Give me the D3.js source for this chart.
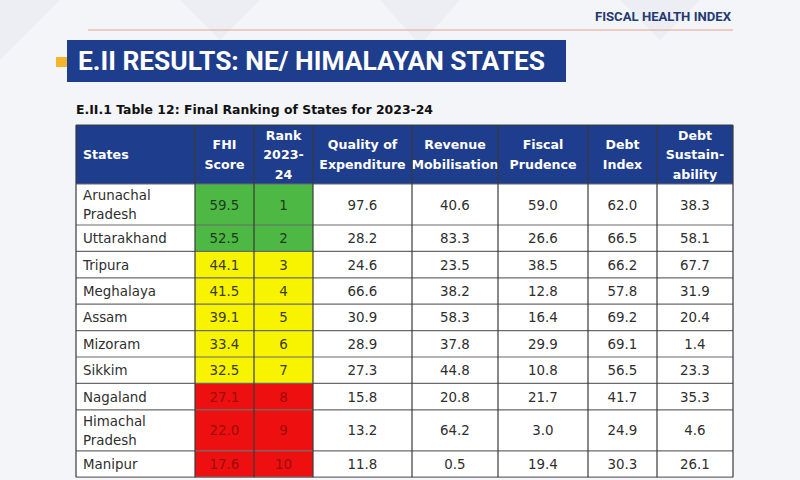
<!DOCTYPE html>
<html>
<head>
<meta charset="utf-8">
<script src="https://cdn.jsdelivr.net/npm/d3@7"></script>
<style>
  html, body { margin: 0; padding: 0; background: #f4f5f9; }
  svg { display: block; }
</style>
</head>
<body>
<div id="chart_container"></div>
<script>
// table data
const states = ["Arunachal Pradesh", "Uttarakhand", "Tripura", "Meghalaya", "Assam",
  "Mizoram", "Sikkim", "Nagaland", "Himachal Pradesh", "Manipur"];
const fhiScore = [59.5, 52.5, 44.1, 41.5, 39.1, 33.4, 32.5, 27.1, 22.0, 17.6];
const rank2023 = [1, 2, 3, 4, 5, 6, 7, 8, 9, 10];
const qualityExp = [97.6, 28.2, 24.6, 66.6, 30.9, 28.9, 27.3, 15.8, 13.2, 11.8];
const revenueMob = [40.6, 83.3, 23.5, 38.2, 58.3, 37.8, 44.8, 20.8, 64.2, 0.5];
const fiscalPrudence = [59.0, 26.6, 38.5, 12.8, 16.4, 29.9, 10.8, 21.7, 3.0, 19.4];
const debtIndex = [62.0, 66.5, 66.2, 57.8, 69.2, 69.1, 56.5, 41.7, 24.9, 30.3];
const debtSustain = [38.3, 58.1, 67.7, 31.9, 20.4, 1.4, 23.3, 35.3, 4.6, 26.1];

const headerLabels = [
  ["States"], ["FHI", "Score"], ["Rank", "2023-", "24"], ["Quality of", "Expenditure"],
  ["Revenue", "Mobilisation"], ["Fiscal", "Prudence"], ["Debt", "Index"], ["Debt", "Sustain-", "ability"]
];

const W = 800, H = 480;
const TABLE = { left: 76, top: 125, headH: 59, rowH: 26.4, rowH2: 41 };
const COL_W = [119, 59, 59, 99, 86, 90, 69, 76];
const NAVY = "#1f3d8d";
const BORDER = "#6a6a6a";

// FHI score buckets -> cell colour
const scoreFill = d3.scaleThreshold().domain([30, 50]).range(["#ee1010", "#f8f400", "#4db944"]);
const scoreText = d3.scaleThreshold().domain([30, 50]).range(["#9a0c0c", "#3b3a12", "#1f3a1c"]);
const fmt1 = d3.format(".1f");

const rows = states.map((s, i) => ({
  state: s,
  cells: [fmt1(fhiScore[i]), String(rank2023[i]), fmt1(qualityExp[i]), fmt1(revenueMob[i]),
    fmt1(fiscalPrudence[i]), fmt1(debtIndex[i]), fmt1(debtSustain[i])],
  score: fhiScore[i],
  lines: s.length > 12 ? s.split(" ") : [s]
}));

const svg = d3.select("#chart_container").append("svg")
  .attr("width", W).attr("height", H);

// background with faint diagonal shapes
svg.append("rect").attr("width", W).attr("height", H).attr("fill", "#f4f5f9");
const bgShapes = [[0, 0, 60, 0, 0, 60], [180, 0, 260, 0, 220, 40], [380, 0, 460, 0, 420, 45], [620, 0, 700, 0, 660, 40]];
svg.selectAll("polygon.bg").data(bgShapes).join("polygon").attr("class", "bg")
  .attr("points", d => `${d[0]},${d[1]} ${d[2]},${d[3]} ${d[4]},${d[5]}`)
  .attr("fill", "#eceef4");

// top running header
svg.append("text").attr("x", 731).attr("y", 21).attr("text-anchor", "end")
  .attr("font-family", "Roboto").attr("font-weight", 700).attr("font-size", 12.5)
  .attr("textLength", 136).attr("lengthAdjust", "spacingAndGlyphs")
  .attr("fill", "#243a73").text("FISCAL HEALTH INDEX");
svg.append("line").attr("x1", 88).attr("x2", 733).attr("y1", 30).attr("y2", 30)
  .attr("stroke", "#e4a593").attr("stroke-width", 1.2);

// title banner
svg.append("rect").attr("x", 56).attr("y", 57).attr("width", 12).attr("height", 10).attr("fill", "#f5b52a");
svg.append("rect").attr("x", 67).attr("y", 40).attr("width", 499).attr("height", 42).attr("fill", NAVY);
svg.append("text").attr("x", 78).attr("y", 70)
  .attr("font-family", "Roboto").attr("font-weight", 700).attr("font-size", 25)
  .attr("textLength", 467).attr("lengthAdjust", "spacingAndGlyphs")
  .attr("fill", "#ffffff").text("E.II RESULTS: NE/ HIMALAYAN STATES");

svg.append("text").attr("x", 76).attr("y", 114)
  .attr("font-family", "DejaVu Sans").attr("font-weight", 700).attr("font-size", 12.5)
  .attr("textLength", 357).attr("lengthAdjust", "spacingAndGlyphs")
  .attr("fill", "#111").text("E.II.1 Table 12: Final Ranking of States for 2023-24");

// column x positions
const colX = COL_W.reduce((acc, w) => { acc.push(acc[acc.length - 1] + w); return acc; }, [TABLE.left]);
const tableW = colX[colX.length - 1] - TABLE.left;

// row y positions
let yAcc = TABLE.top + TABLE.headH;
rows.forEach(r => {
  r.h = r.lines.length > 1 ? TABLE.rowH2 : TABLE.rowH;
  r.y = yAcc;
  yAcc += r.h;
});
const tableBottom = yAcc;

const table = svg.append("g");

// header
table.append("rect").attr("x", TABLE.left).attr("y", TABLE.top)
  .attr("width", tableW).attr("height", TABLE.headH).attr("fill", NAVY);

const head = table.selectAll("g.head").data(headerLabels).join("g").attr("class", "head");
head.each(function (lines, ci) {
  const cx = ci === 0 ? colX[0] + 7 : (colX[ci] + colX[ci + 1]) / 2;
  const lh = 19.5;
  const y0 = TABLE.top + TABLE.headH / 2 - (lines.length - 1) * lh / 2 + 4.5;
  d3.select(this).selectAll("text").data(lines).join("text")
    .attr("x", cx).attr("y", (d, k) => y0 + k * lh)
    .attr("text-anchor", ci === 0 ? "start" : "middle")
    .attr("font-family", "DejaVu Sans").attr("font-weight", 700).attr("font-size", 12.6)
    .attr("fill", "#fff").text(d => d);
});

// body background
table.append("rect").attr("x", TABLE.left).attr("y", TABLE.top + TABLE.headH)
  .attr("width", tableW).attr("height", tableBottom - TABLE.top - TABLE.headH).attr("fill", "#fff");

const row = table.selectAll("g.row").data(rows).join("g").attr("class", "row")
  .attr("transform", d => `translate(0,${d.y})`);

// coloured score + rank cells
row.selectAll("rect.score").data(d => [0, 1].map(ci => ({ ci, d }))).join("rect")
  .attr("class", "score")
  .attr("x", c => colX[c.ci + 1]).attr("y", 0)
  .attr("width", c => COL_W[c.ci + 1]).attr("height", c => c.d.h)
  .attr("fill", c => scoreFill(c.d.score));

// state names
row.each(function (d) {
  const g = d3.select(this);
  const lh = 18.5;
  const y0 = d.h / 2 - (d.lines.length - 1) * lh / 2 + 5;
  g.selectAll("text.state").data(d.lines).join("text").attr("class", "state")
    .attr("x", colX[0] + 7).attr("y", (t, k) => y0 + k * lh)
    .attr("font-family", "DejaVu Sans").attr("font-size", 13.4)
    .attr("fill", "#2e2e2e").text(t => t);
});

// numeric cells
row.selectAll("text.num").data(d => d.cells.map((v, ci) => ({ v, ci, d }))).join("text")
  .attr("class", "num")
  .attr("x", c => (colX[c.ci + 1] + colX[c.ci + 2]) / 2)
  .attr("y", c => c.d.h / 2 + 5)
  .attr("text-anchor", "middle")
  .attr("font-family", "DejaVu Sans").attr("font-size", 13.4)
  .attr("fill", c => c.ci < 2 ? scoreText(c.d.score) : "#2e2e2e")
  .text(c => c.v);

// grid lines
table.selectAll("line.h").data(rows).join("line").attr("class", "h")
  .attr("x1", TABLE.left).attr("x2", TABLE.left + tableW)
  .attr("y1", d => d.y).attr("y2", d => d.y)
  .attr("stroke", BORDER).attr("stroke-width", 1.2);
table.append("line").attr("x1", TABLE.left).attr("x2", TABLE.left + tableW)
  .attr("y1", tableBottom).attr("y2", tableBottom).attr("stroke", BORDER).attr("stroke-width", 1.2);
table.selectAll("line.v").data(colX).join("line").attr("class", "v")
  .attr("x1", d => d).attr("x2", d => d)
  .attr("y1", TABLE.top).attr("y2", tableBottom)
  .attr("stroke", "#3a3a3a").attr("stroke-width", 1.2);
table.append("line").attr("x1", TABLE.left).attr("x2", TABLE.left + tableW)
  .attr("y1", TABLE.top).attr("y2", TABLE.top).attr("stroke", "#3a3a3a");
</script>
</body>
</html>
